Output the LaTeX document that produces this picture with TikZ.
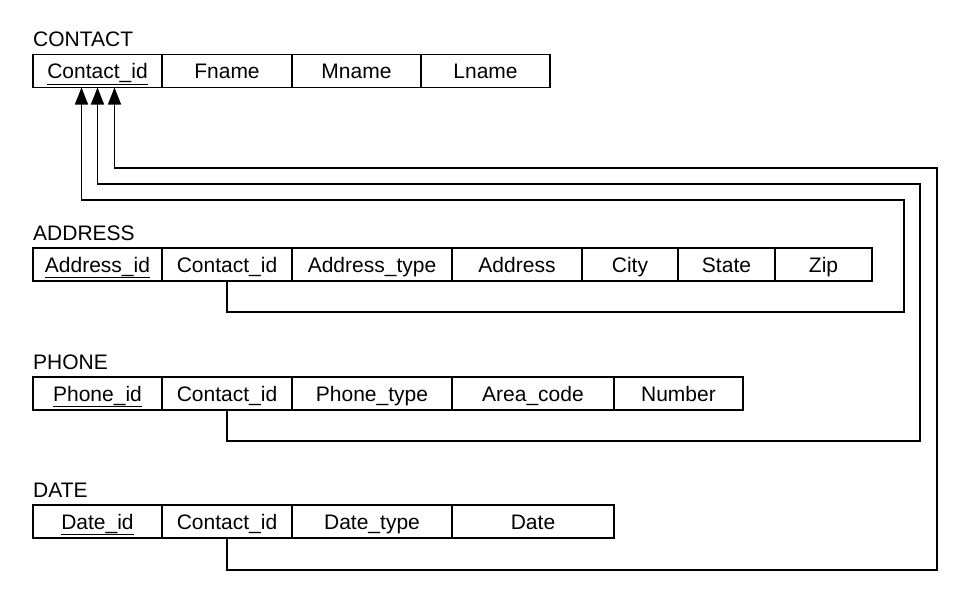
\documentclass[tikz,border=0pt]{standalone}
\usepackage{fontspec}
\setmainfont{Liberation Sans}
\usetikzlibrary{arrows.meta,positioning}

\begin{document}
\begin{tikzpicture}[
    x=1pt, y=-1pt,
    font=\fontsize{21}{25}\selectfont,
    node distance=0pt,
    title/.style={anchor=base west, inner sep=0pt},
    cell/.style={draw=black, line width=1.5pt, minimum height=33pt, minimum width=#1, text height=17pt, text depth=2pt, inner sep=0pt, outer sep=0pt, anchor=west},
    link/.style={draw=black, line width=1.5pt},
    fk/.style={link, -{Triangle[length=17pt,width=13pt]}}
]
\useasboundingbox (0,0) rectangle (970,605);

% CONTACT
\node[title] (tc) at (33,46) {CONTACT};
\node[cell=129pt] (c0) at (33,71) {\underline{Contact\_id}};
\node[cell=130pt, right=of c0] (c1) {Fname};
\node[cell=129pt, right=of c1] (c2) {Mname};
\node[cell=129pt, right=of c2] (c3) {Lname};

% ADDRESS
\node[title] (ta) at (33,240) {ADDRESS};
\node[cell=129pt] (a0) at (33,264.5) {\underline{Address\_id}};
\node[cell=130pt, right=of a0] (a1) {Contact\_id};
\node[cell=160pt, right=of a1] (a2) {Address\_type};
\node[cell=130pt, right=of a2] (a3) {Address};
\node[cell=96pt, right=of a3] (a4) {City};
\node[cell=97pt, right=of a4] (a5) {State};
\node[cell=97pt, right=of a5] (a6) {Zip};

% PHONE
\node[title] (tp) at (33,369) {PHONE};
\node[cell=129pt] (p0) at (33,393.5) {\underline{Phone\_id}};
\node[cell=130pt, right=of p0] (p1) {Contact\_id};
\node[cell=160pt, right=of p1] (p2) {Phone\_type};
\node[cell=162pt, right=of p2] (p3) {Area\_code};
\node[cell=129pt, right=of p3] (p4) {Number};

% DATE
\node[title] (td) at (33,497) {DATE};
\node[cell=129pt] (d0) at (33,521.5) {\underline{Date\_id}};
\node[cell=130pt, right=of d0] (d1) {Contact\_id};
\node[cell=160pt, right=of d1] (d2) {Date\_type};
\node[cell=162pt, right=of d2] (d3) {Date};

% foreign keys
\draw[fk] (a1.south) -- ++(0,31) -| (904,200) -| ([xshift=-16pt]c0.south);
\draw[fk] (p1.south) -- ++(0,31) -| (920,184) -| (c0.south);
\draw[fk] (d1.south) -- ++(0,32) -| (937,168) -| ([xshift=17pt]c0.south);
\end{tikzpicture}
\end{document}
